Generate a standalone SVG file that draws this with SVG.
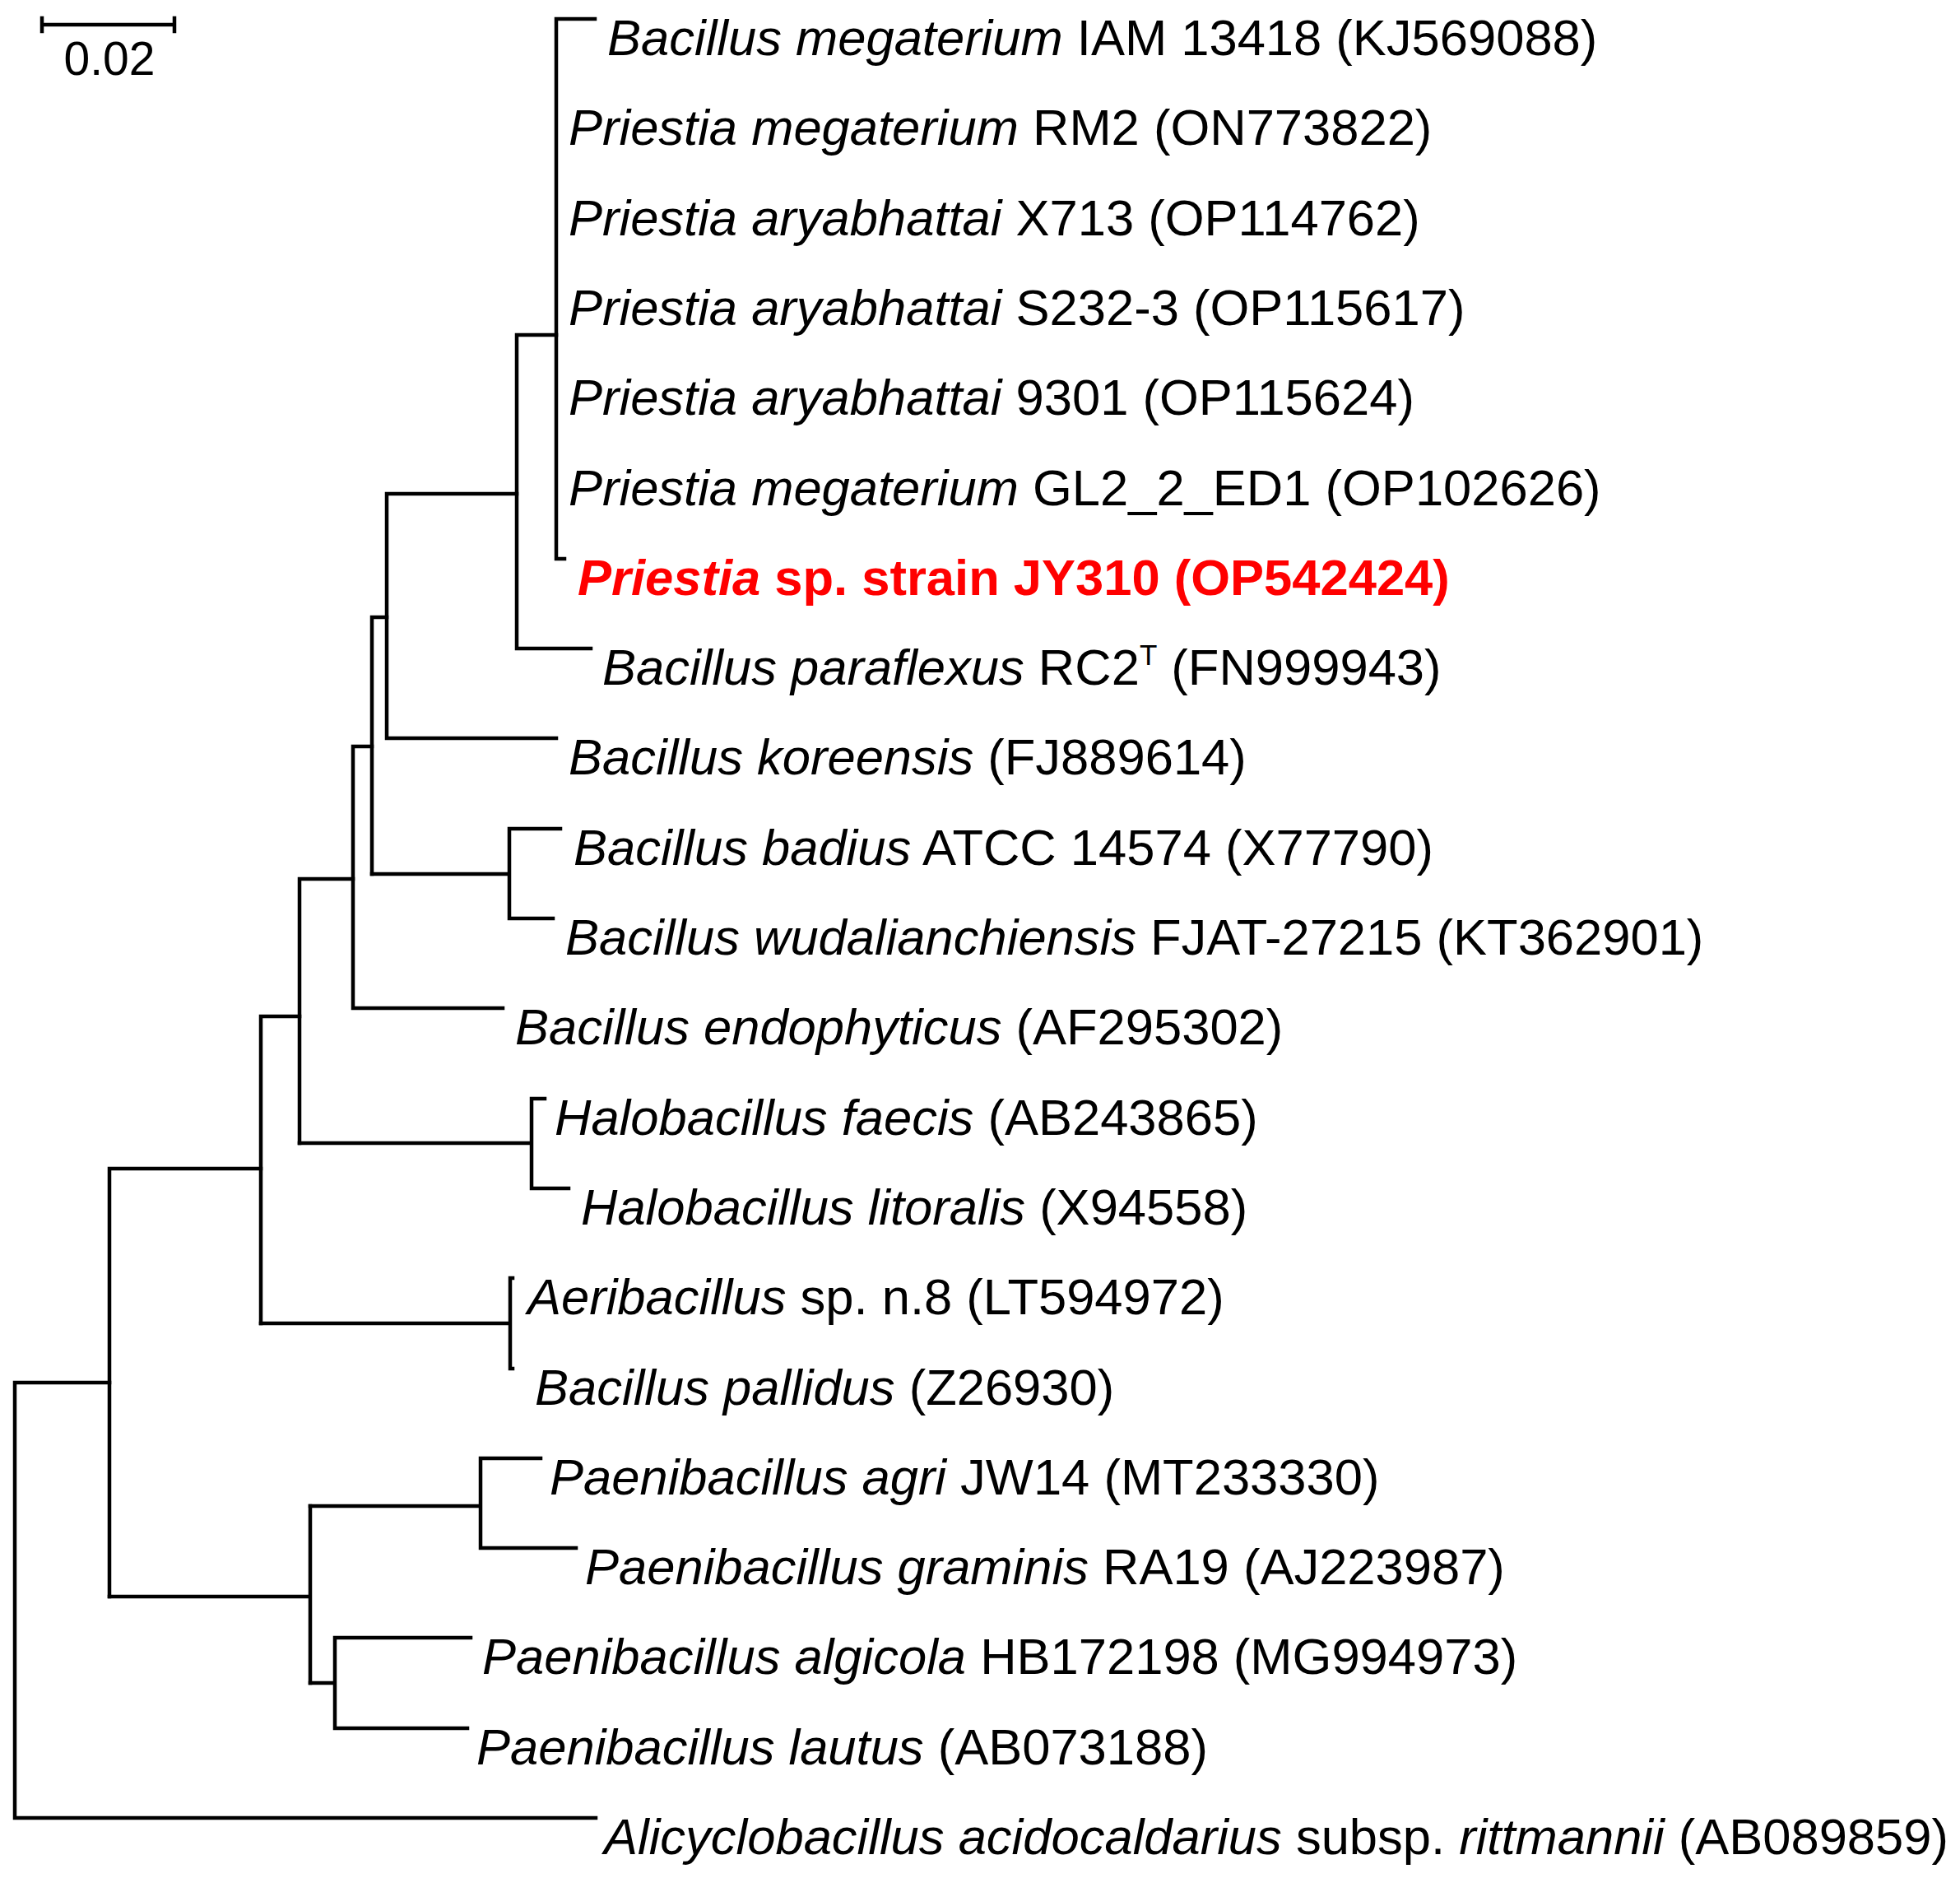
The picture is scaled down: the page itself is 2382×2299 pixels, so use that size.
<svg xmlns="http://www.w3.org/2000/svg" width="2382" height="2299" viewBox="0 0 2382 2299">
<style>
.e{fill:none;stroke:#000;stroke-width:4.5;stroke-linecap:square}
text{font-family:"Liberation Sans",Arial,sans-serif;font-size:61.5px;fill:#000}
.i{font-style:italic}
.r{fill:#f00;font-weight:bold}
</style>
<rect width="2382" height="2299" fill="#fff"/>
<g id="scale">
<path class="e" d="M51 30H212M51 22V38M212 22V38"/>
<text x="133" y="91" text-anchor="middle" style="font-size:57px">0.02</text>
</g>
<g id="connectors">
<path class="e" d="M676 23V679M676 23H723M676 679H686"/>
<path class="e" d="M628 407V788M628 407H676M628 788H718"/>
<path class="e" d="M470 600V897M470 600H628M470 897H676"/>
<path class="e" d="M452 750V1062M452 750H470"/>
<path class="e" d="M619 1007V1116M452 1062H619M619 1007H681M619 1116H672"/>
<path class="e" d="M429 907V1225M429 907H452M429 1225H611"/>
<path class="e" d="M364 1068V1389M364 1068H429"/>
<path class="e" d="M646 1335V1444M364 1389H646M646 1335H662M646 1444H691"/>
<path class="e" d="M317 1235V1608M317 1235H364"/>
<path class="e" d="M620 1553V1663M317 1608H620M620 1553H623M620 1663H623"/>
<path class="e" d="M133 1420V1940M133 1420H317"/>
<path class="e" d="M377 1830V2045M133 1940H377"/>
<path class="e" d="M584 1772V1881M377 1830H584M584 1772H657M584 1881H700"/>
<path class="e" d="M407 1990V2100M377 2045H407M407 1990H572M407 2100H568"/>
<path class="e" d="M18 1680V2209M18 1680H133M18 2209H724"/>
</g>
<g id="leaf0"><text x="738" y="67"><tspan class="i">Bacillus megaterium</tspan> IAM 13418 (KJ569088)</text></g>
<g id="leaf1"><text x="691" y="176"><tspan class="i">Priestia megaterium</tspan> RM2 (ON773822)</text></g>
<g id="leaf2"><text x="691" y="286"><tspan class="i">Priestia aryabhattai</tspan> X713 (OP114762)</text></g>
<g id="leaf3"><text x="691" y="395"><tspan class="i">Priestia aryabhattai</tspan> S232-3 (OP115617)</text></g>
<g id="leaf4"><text x="691" y="504"><tspan class="i">Priestia aryabhattai</tspan> 9301 (OP115624)</text></g>
<g id="leaf5"><text x="691" y="614"><tspan class="i">Priestia megaterium</tspan> GL2_2_ED1 (OP102626)</text></g>
<g id="leaf6"><text class="r" x="702" y="723"><tspan class="i">Priestia</tspan> sp. strain JY310 (OP542424)</text></g>
<g id="leaf7"><text x="732" y="832"><tspan class="i">Bacillus paraflexus</tspan> RC2<tspan font-size="35" dy="-24">T</tspan><tspan dy="24"> (FN999943)</tspan></text></g>
<g id="leaf8"><text x="691" y="941"><tspan class="i">Bacillus koreensis</tspan> (FJ889614)</text></g>
<g id="leaf9"><text x="697" y="1051"><tspan class="i">Bacillus badius</tspan> ATCC 14574 (X77790)</text></g>
<g id="leaf10"><text x="687" y="1160"><tspan class="i">Bacillus wudalianchiensis</tspan> FJAT-27215 (KT362901)</text></g>
<g id="leaf11"><text x="626" y="1269"><tspan class="i">Bacillus endophyticus</tspan> (AF295302)</text></g>
<g id="leaf12"><text x="674" y="1379"><tspan class="i">Halobacillus faecis</tspan> (AB243865)</text></g>
<g id="leaf13"><text x="706" y="1488"><tspan class="i">Halobacillus litoralis</tspan> (X94558)</text></g>
<g id="leaf14"><text x="641" y="1597"><tspan class="i">Aeribacillus</tspan> sp. n.8 (LT594972)</text></g>
<g id="leaf15"><text x="650" y="1707"><tspan class="i">Bacillus pallidus</tspan> (Z26930)</text></g>
<g id="leaf16"><text x="668" y="1816"><tspan class="i">Paenibacillus agri</tspan> JW14 (MT233330)</text></g>
<g id="leaf17"><text x="711" y="1925"><tspan class="i">Paenibacillus graminis</tspan> RA19 (AJ223987)</text></g>
<g id="leaf18"><text x="586" y="2034"><tspan class="i">Paenibacillus algicola</tspan> HB172198 (MG994973)</text></g>
<g id="leaf19"><text x="579" y="2144"><tspan class="i">Paenibacillus lautus</tspan> (AB073188)</text></g>
<g id="leaf20"><text x="734" y="2253"><tspan class="i">Alicyclobacillus acidocaldarius</tspan> subsp. <tspan class="i">rittmannii</tspan> (AB089859)</text></g>
</svg>
